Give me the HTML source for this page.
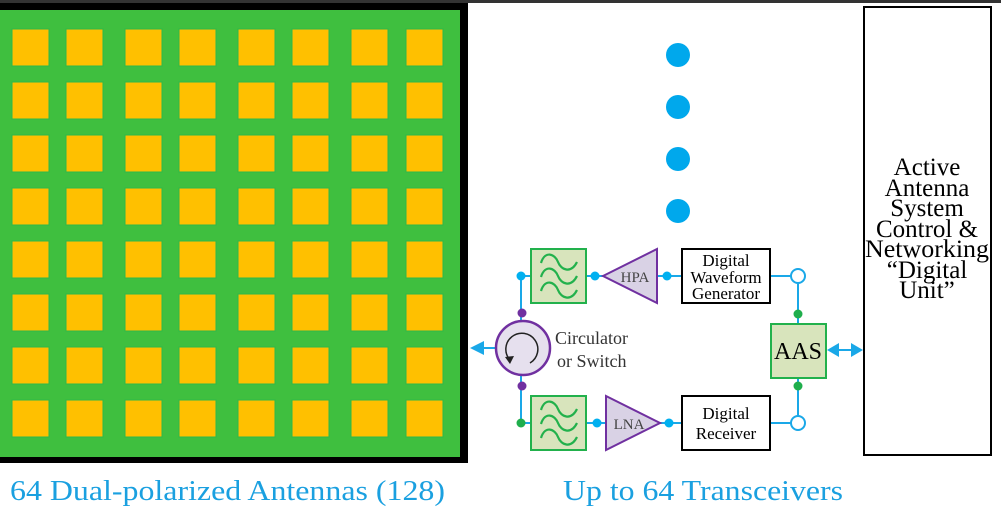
<!DOCTYPE html>
<html><head><meta charset="utf-8"><style>
html,body{margin:0;padding:0;background:#fff;width:1001px;height:521px;overflow:hidden}
text{font-family:"Liberation Serif",serif}
</style></head><body>
<svg width="1001" height="521" viewBox="0 0 1001 521" xmlns="http://www.w3.org/2000/svg">
<rect x="0" y="0" width="1001" height="3" fill="#333"/>
<rect x="0" y="3" width="468" height="460" fill="#000"/>
<rect x="0" y="10" width="460" height="447" fill="#3fbf3f"/>
<g fill="#ffc000" stroke="#2cb84a" stroke-width="1">
<g id="row">
<rect x="12" y="29" width="37" height="37"/><rect x="66" y="29" width="37" height="37"/>
<rect x="125" y="29" width="37" height="37"/><rect x="179" y="29" width="37" height="37"/>
<rect x="238" y="29" width="37" height="37"/><rect x="292" y="29" width="37" height="37"/>
<rect x="351" y="29" width="37" height="37"/><rect x="406" y="29" width="37" height="37"/>
</g>
<use href="#row" y="53"/><use href="#row" y="106"/><use href="#row" y="159"/>
<use href="#row" y="212"/><use href="#row" y="265"/><use href="#row" y="318"/><use href="#row" y="371"/>
</g>
<g fill="#00a8ec">
<circle cx="678" cy="55" r="12"/><circle cx="678" cy="107" r="12"/>
<circle cx="678" cy="159" r="12"/><circle cx="678" cy="211" r="12"/>
</g>
<g stroke="#1aa8e8" stroke-width="2" fill="none">
<line x1="521" y1="276" x2="531" y2="276"/>
<line x1="521" y1="276" x2="521" y2="321"/>
<line x1="521" y1="376" x2="521" y2="423"/>
<line x1="521" y1="423" x2="531" y2="423"/>
<line x1="586" y1="276" x2="603" y2="276"/>
<line x1="657" y1="276" x2="682" y2="276"/>
<line x1="586" y1="423" x2="606" y2="423"/>
<line x1="660" y1="423" x2="682" y2="423"/>
<line x1="770" y1="276" x2="791" y2="276"/>
<line x1="770" y1="423" x2="791" y2="423"/>
<line x1="798" y1="283" x2="798" y2="324"/>
<line x1="798" y1="378" x2="798" y2="416"/>
<line x1="482" y1="348" x2="496" y2="348"/>
<line x1="836" y1="350" x2="854" y2="350"/>
</g>
<g fill="#1aa8e8">
<polygon points="470,348 484,341 484,355"/>
<polygon points="827,350 839,343 839,357"/>
<polygon points="863,350 851,343 851,357"/>
</g>
<g id="filt">
<rect x="531" y="249" width="55" height="54" fill="#d8e4bc" stroke="#22b14c" stroke-width="2"/>
<g stroke="#22b14c" stroke-width="2.2" fill="none">
<path d="M541,263 C545,250 555,254 558,262 C561,270 571,274 577,262"/>
<path d="M541,277 C545,264 555,268 558,276 C561,284 571,288 577,276"/>
<path d="M541,291 C545,278 555,282 558,290 C561,298 571,302 577,290"/>
</g>
</g>
<use href="#filt" y="147"/>
<polygon points="603,276 657,249 657,303" fill="#d9d2e5" stroke="#7030a0" stroke-width="2"/>
<text x="635" y="282" font-size="15" text-anchor="middle" fill="#444">HPA</text>
<polygon points="606,396 660,423 606,450" fill="#d9d2e5" stroke="#7030a0" stroke-width="2"/>
<text x="629" y="429" font-size="15" text-anchor="middle" fill="#444">LNA</text>
<rect x="682" y="249" width="88" height="54" fill="#fff" stroke="#000" stroke-width="2"/>
<text x="726" y="266" font-size="17" text-anchor="middle">Digital</text>
<text x="726" y="283" font-size="17" text-anchor="middle">Waveform</text>
<text x="726" y="299" font-size="17" text-anchor="middle">Generator</text>
<rect x="682" y="396" width="88" height="54" fill="#fff" stroke="#000" stroke-width="2"/>
<text x="726" y="419" font-size="17" text-anchor="middle">Digital</text>
<text x="726" y="439" font-size="17" text-anchor="middle">Receiver</text>
<rect x="771" y="324" width="55" height="54" fill="#d8e4bc" stroke="#22b14c" stroke-width="2"/>
<text x="798" y="359" font-size="24" text-anchor="middle">AAS</text>
<circle cx="798" cy="276" r="7" fill="#fff" stroke="#1aa8e8" stroke-width="2"/>
<circle cx="798" cy="423" r="7" fill="#fff" stroke="#1aa8e8" stroke-width="2"/>
<circle cx="523" cy="348" r="27" fill="#e6e0ee" stroke="#7030a0" stroke-width="2.5"/>
<path d="M510,360 A16,16 0 1 1 530,363" fill="none" stroke="#222" stroke-width="1.5"/>
<polygon points="505,357 514,356 510,364" fill="#222"/>
<text x="555" y="344" font-size="18" fill="#333">Circulator</text>
<text x="557" y="367" font-size="18" fill="#333">or Switch</text>
<g fill="#00b0f0">
<circle cx="521" cy="276" r="4.5"/><circle cx="595" cy="276" r="4.5"/><circle cx="667" cy="276" r="4.5"/>
<circle cx="597" cy="423" r="4.5"/><circle cx="669" cy="423" r="4.5"/>
</g>
<g fill="#7030a0"><circle cx="522" cy="313" r="4.5"/><circle cx="522" cy="386" r="4.5"/></g>
<g fill="#1fae4c"><circle cx="521" cy="423" r="4.5"/><circle cx="798" cy="314" r="4.5"/><circle cx="798" cy="386" r="4.5"/></g>
<rect x="864" y="7" width="127" height="448" fill="#fff" stroke="#000" stroke-width="2"/>
<g font-size="25" text-anchor="middle">
<text x="927" y="175">Active</text>
<text x="927" y="196">Antenna</text>
<text x="927" y="216">System</text>
<text x="927" y="237">Control &amp;</text>
<text x="927" y="257" textLength="124" lengthAdjust="spacingAndGlyphs">Networking</text>
<text x="927" y="278">“Digital</text>
<text x="927" y="298">Unit”</text>
</g>
<text x="10" y="500" font-size="28" fill="#1aa0e0" textLength="435" lengthAdjust="spacingAndGlyphs">64 Dual-polarized Antennas (128)</text>
<text x="563" y="500" font-size="28" fill="#1aa0e0" textLength="280" lengthAdjust="spacingAndGlyphs">Up to 64 Transceivers</text>
</svg>
</body></html>
